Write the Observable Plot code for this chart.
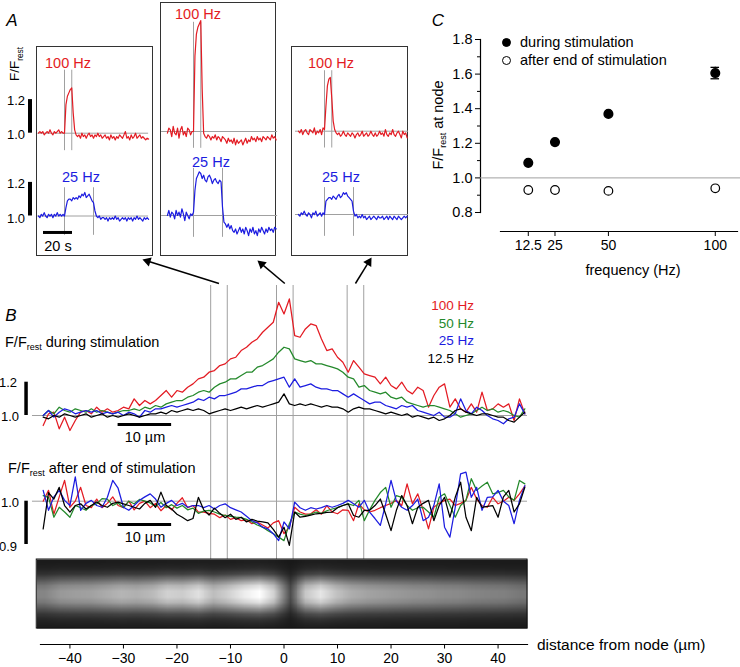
<!DOCTYPE html>
<html><head><meta charset="utf-8">
<script src="https://cdn.jsdelivr.net/npm/d3@7"></script>
<script src="https://cdn.jsdelivr.net/npm/@observablehq/plot@0.6"></script>
<style>
body{margin:0;background:#fff;}
#fig{position:relative;width:740px;height:667px;overflow:hidden;font-family:"Liberation Sans",Arial,Helvetica,sans-serif;color:#000;background:#fff;}
#fig > svg{position:absolute;left:0;top:0;}
.t{position:absolute;white-space:nowrap;line-height:1;}
.t sub{font-size:0.62em;vertical-align:-0.4em;line-height:0;}
.box{position:absolute;box-sizing:border-box;border:1.5px solid #333;}
.ldot{position:absolute;box-sizing:border-box;border:1.2px solid #000;border-radius:50%;width:9px;height:9px;}
</style></head><body><div id="fig"></div>
<script>
// ================= DATA =================
// Panel B: profiles along the axon (µm from node)
const distanceUm = [-45,-44,-43,-42,-41,-40,-39,-38,-37,-36,-35,-34,-33,-32,-31,-30,-29,-28,-27,-26,-25,-24,-23,-22,-21,-20,-19,-18,-17,-16,-15,-14,-13,-12,-11,-10,-9,-8,-7,-6,-5,-4,-3,-2,-1,0,1,2,3,4,5,6,7,8,9,10,11,12,13,14,15,16,17,18,19,20,21,22,23,24,25,26,27,28,29,30,31,32,33,34,35,36,37,38,39,40,41,42,43,44,45];
const duringRed = [0.94,1.01,1.02,0.92,0.99,0.91,0.97,1.02,1.03,1.01,1.05,1.02,1.04,1.02,1.03,1.05,1.04,1.10,1.06,1.09,1.07,1.09,1.12,1.15,1.11,1.15,1.14,1.17,1.19,1.22,1.23,1.26,1.27,1.30,1.31,1.34,1.35,1.39,1.41,1.44,1.46,1.50,1.53,1.56,1.68,
  1.61,1.70,1.48,1.47,1.52,1.55,1.54,1.46,1.39,1.40,1.35,1.32,1.26,1.33,1.29,1.25,1.24,1.23,1.19,1.23,1.18,1.16,1.20,1.15,1.13,1.17,1.15,1.05,1.12,1.17,1.19,1.05,1.10,1.04,1.02,1.07,1.02,1.14,1.03,1.04,1.07,1.05,1.07,0.97,1.10,1.01];
const duringGreen = [1.00,1.03,1.01,1.05,1.03,1.02,1.04,1.03,1.02,1.04,1.02,1.03,1.02,1.01,1.02,1.03,1.03,1.04,1.03,1.05,1.04,1.06,1.05,1.07,1.08,1.09,1.09,1.11,1.12,1.14,1.15,1.14,1.17,1.19,1.20,1.22,1.22,1.24,1.26,1.26,1.29,1.30,1.32,1.34,1.38,
  1.41,1.40,1.34,1.33,1.32,1.33,1.31,1.31,1.30,1.29,1.28,1.26,1.23,1.22,1.17,1.18,1.15,1.14,1.13,1.14,1.11,1.10,1.11,1.08,1.07,1.06,1.05,1.06,1.06,1.05,1.04,1.03,1.01,0.99,1.00,1.01,1.03,1.05,1.03,1.04,1.02,1.03,1.02,1.00,0.99,1.04];
const duringBlue = [1.00,1.03,0.99,1.02,1.04,1.03,1.01,1.02,1.03,1.02,1.03,1.01,1.02,1.01,1.02,1.00,1.02,1.01,0.99,1.03,1.02,1.04,1.04,1.05,1.06,1.05,1.06,1.07,1.08,1.10,1.09,1.11,1.10,1.12,1.12,1.13,1.14,1.16,1.16,1.17,1.18,1.18,1.20,1.21,1.22,
  1.23,1.17,1.22,1.17,1.18,1.19,1.17,1.16,1.16,1.15,1.15,1.13,1.11,1.13,1.11,1.09,1.07,1.08,1.08,1.06,1.05,1.04,1.06,1.05,1.06,1.03,1.02,1.01,1.00,1.02,0.99,0.99,1.01,1.10,1.03,1.01,1.05,1.03,1.00,0.98,0.97,0.95,0.98,0.99,1.07,1.01];
const duringBlack = [0.99,0.98,1.00,0.99,1.01,1.00,0.99,1.00,1.01,0.99,1.00,1.01,0.99,1.00,0.99,1.00,1.01,1.00,0.99,1.00,1.01,1.01,1.02,1.01,1.03,1.02,1.03,1.04,1.03,1.04,1.03,1.01,1.02,1.03,1.04,1.03,1.04,1.05,1.04,1.05,1.06,1.05,1.06,1.07,1.08,
  1.13,1.07,1.06,1.07,1.06,1.07,1.06,1.05,1.06,1.05,1.05,1.04,1.02,1.04,1.05,1.04,1.04,1.03,1.02,1.01,1.02,1.01,1.00,1.01,0.99,1.00,0.99,0.98,0.99,0.97,0.98,1.00,1.03,1.04,1.02,1.01,1.00,1.01,1.01,1.00,0.99,0.99,0.97,0.96,0.99,1.02];
const afterRed = [1.00,1.025,0.97,1.01,1.048,0.986,1.00,1.032,0.99,0.985,
  1.005,0.985,0.995,1.01,0.99,0.985,1.00,0.98,0.995,1.00,
  0.985,0.995,0.978,0.99,0.98,0.995,1.008,0.985,0.99,0.975,
  0.975,0.972,0.97,0.962,0.968,0.958,0.962,0.955,0.957,0.948,
  0.952,0.945,0.938,0.95,0.955,
  0.925,0.94,0.986,0.975,0.97,0.971,0.98,0.97,0.99,0.975,
  0.971,0.98,0.979,0.955,0.994,0.98,0.975,0.979,0.985,0.99,
  0.995,1.002,0.99,1.04,0.994,1.017,0.98,0.936,0.986,0.995,
  1.002,1.005,0.99,0.995,1.002,1.032,1.005,0.99,0.986,1.009,
  0.994,1.00,1.009,1.002,1.017,1.035];
const afterGreen = [1.013,1.009,0.963,0.986,0.975,0.963,0.99,0.985,0.979,0.99,
  0.994,1.006,1.005,0.99,0.996,0.985,1.0,0.994,1.004,1.0,
  0.996,0.988,0.997,0.985,0.992,0.984,0.99,0.98,0.984,0.972,
  0.977,0.979,0.975,0.97,0.967,0.965,0.963,0.962,0.958,0.952,
  0.945,0.94,0.932,0.925,0.917,
  0.909,0.948,0.975,0.97,0.967,0.97,0.975,0.972,0.978,0.982,
  0.985,0.99,0.994,0.99,1.002,0.955,0.98,1.002,1.02,1.032,
  0.986,1.013,1.009,0.99,0.979,0.985,0.986,0.975,0.963,1.009,
  1.017,0.99,0.963,0.99,1.002,1.052,1.025,1.035,1.044,1.017,
  1.02,1.025,1.01,1.002,1.048,1.04];
const afterBlue = [1.025,0.979,1.01,1.025,1.002,0.99,1.056,0.979,0.995,1.002,
  0.99,0.986,1.009,1.048,1.03,0.986,0.979,0.99,1.002,1.01,
  1.017,1.005,0.986,0.995,1.002,0.99,0.995,0.986,0.99,0.99,
  0.985,0.99,0.982,0.99,0.994,0.985,0.98,0.975,0.965,0.955,
  0.95,0.94,0.936,0.925,0.909,
  0.952,0.936,0.998,0.985,0.979,0.985,0.982,0.985,0.99,0.986,
  0.99,0.995,1.002,0.994,0.986,1.002,0.975,0.96,0.944,0.994,
  1.048,1.00,0.986,0.979,0.99,1.005,0.955,0.963,0.99,1.04,
  0.94,0.917,0.986,1.063,1.067,1.009,1.032,0.979,1.009,1.01,
  1.025,1.00,0.99,0.948,1.002,1.036];
const afterBlack = [0.936,1.02,1.005,1.032,0.99,0.975,0.99,0.994,0.982,0.99,
  0.998,0.99,0.986,0.995,0.998,0.994,0.99,0.986,0.982,0.995,
  1.002,0.986,1.021,0.99,0.982,0.97,0.963,0.955,0.96,1.009,
  0.98,0.968,0.984,0.972,0.962,0.97,0.958,0.963,0.952,0.958,
  0.954,0.952,0.95,0.935,0.917,
  0.94,0.898,0.975,0.963,0.965,0.968,0.971,0.972,0.974,0.975,
  0.985,0.99,0.994,0.967,0.963,0.979,0.979,0.99,1.005,0.97,
  0.932,0.979,1.013,0.99,0.948,0.986,0.995,1.002,0.955,0.99,
  1.009,0.963,1.009,1.044,0.963,0.932,1.009,0.986,0.988,0.99,
  0.963,1.01,1.025,0.975,0.994,1.032];
const seriesLabels = ["100 Hz","50 Hz","25 Hz","12.5 Hz"];
const nodeMarkers = [-13.7,-10.6,-1.4,1.7,11.8,14.9];
const distanceTicks = [-40,-30,-20,-10,0,10,20,30,40];

// Fluorescence image (grey level, 0 = black, 1 = white)
const imageColumnLevel = [0.52,0.60,0.62,0.63,0.67,0.71,0.69,0.73,0.82,0.80,0.88,0.74,0.82,0.93,1.00,0.80,0.30,0.78,0.90,0.76,0.68,0.64,0.62,0.60,0.58,0.57,0.55,0.54,0.52,0.51,0.50,0.47];
const imageRowLevel = [0.04,0.09,0.24,0.55,0.86,1.00,1.00,0.86,0.56,0.28,0.12,0.05];
const imageBackground = 0.09;

// Panel A insets: F/Frest vs time (1 s samples)
const inset1Red = [1.00,1.01,1.00,1.01,0.99,1.00,1.01,1.00,1.02,1.00,0.99,1.01,1.00,1.01,1.02,1.00,1.01,1.00,
  1.00,1.17,1.22,1.24,1.26,1.27,1.12,1.02,0.99,0.98,
  0.99,0.97,1.00,0.98,0.99,0.97,0.99,1.00,0.98,0.99,0.97,0.99,0.98,1.00,0.98,0.99,0.97,0.98,0.99,0.97,0.98,0.96,0.99,0.97,0.98,0.96,0.98,0.97,0.99,0.98,0.97,0.99,1.01,0.97,0.98,0.96,0.99,0.97,0.98,1.00,0.97,0.98,0.99,0.97,0.98,0.97,0.96,0.97,0.965];
const inset1Blue = [1.00,0.99,1.01,1.00,1.02,1.00,0.99,1.01,1.00,1.01,0.99,1.01,1.00,1.02,1.00,1.01,1.00,1.01,
  1.00,1.05,1.09,1.10,1.10,1.09,1.11,1.10,1.11,1.10,1.12,1.11,1.13,1.12,1.14,1.11,1.12,1.13,1.11,1.09,1.08,1.03,1.00,
  0.99,1.00,0.98,0.99,0.99,0.98,0.99,0.97,0.99,0.98,0.99,0.98,1.00,0.98,0.99,0.97,0.98,0.99,0.98,0.99,0.97,0.99,0.98,0.99,0.97,0.99,0.98,1.00,0.98,0.99,0.98,0.97,0.99,0.98,0.99,0.98];
const inset2Red = [0.99,1.02,1.01,0.97,1.03,0.99,0.98,1.02,0.96,1.01,1.03,0.98,1.00,0.97,1.02,1.01,0.98,1.00,
  1.00,1.45,1.58,1.62,1.64,1.66,1.25,0.99,0.97,
  0.96,0.98,0.97,0.95,0.97,0.96,0.98,0.95,0.97,0.96,0.94,0.97,0.96,0.95,0.93,0.96,0.94,0.95,0.93,0.96,0.92,0.95,0.93,0.94,0.95,0.92,0.94,0.96,0.93,0.95,0.94,0.97,0.95,0.96,0.94,0.97,0.95,0.96,0.94,0.97,0.96,0.95,0.97,0.96,0.95,0.98,0.96,0.97,0.95];
const inset2Blue = [1.00,1.03,0.99,1.02,1.01,0.98,1.03,1.00,1.02,0.99,1.04,1.01,0.97,1.02,1.00,0.98,1.01,1.00,
  1.02,1.15,1.22,1.24,1.26,1.25,1.22,1.24,1.21,1.20,1.23,1.24,1.22,1.19,1.21,1.22,1.20,1.19,1.21,1.20,1.05,0.96,0.95,
  0.93,0.95,0.92,0.94,0.91,0.90,0.92,0.89,0.91,0.93,0.90,0.92,0.89,0.93,0.91,0.88,0.92,0.90,0.93,0.89,0.91,0.88,0.92,0.90,0.93,0.91,0.89,0.92,0.90,0.93,0.91,0.92,0.90,0.93,0.92];
const inset3Red = [1.00,0.99,1.01,0.98,1.00,1.01,0.99,0.98,1.01,1.00,0.99,1.02,0.98,1.00,0.99,1.01,0.98,1.02,
  1.01,1.15,1.27,1.31,1.32,1.20,1.06,1.01,0.99,
  0.98,0.99,0.97,0.98,1.00,0.98,0.97,0.99,0.98,0.97,0.99,0.98,0.96,0.98,0.99,0.97,0.98,1.00,0.97,0.98,0.99,0.97,0.98,1.00,0.98,0.97,0.99,0.97,0.98,1.00,0.98,0.99,0.97,1.01,0.98,0.97,0.99,0.98,1.01,0.98,0.97,0.99,1.00,0.98,0.96,1.00,0.98,0.99,0.96];
const inset3Blue = [1.00,0.99,1.01,1.00,1.02,1.00,0.99,1.01,1.00,0.98,1.01,1.00,1.02,0.99,1.00,1.01,0.99,1.01,
  1.00,1.08,1.09,1.10,1.10,1.09,1.11,1.10,1.09,1.11,1.12,1.10,1.11,1.13,1.12,1.13,1.11,1.10,1.09,1.08,1.02,0.99,
  1.00,0.98,0.99,0.98,1.00,0.98,0.99,0.97,0.98,0.99,0.97,0.98,0.99,0.98,0.97,0.99,0.98,0.98,0.99,0.97,0.98,0.99,0.97,0.99,0.98,0.97,0.99,0.98,0.97,0.99,0.98,0.97,0.98,0.99,0.98,0.99];
const stim100Hz = [18, 23];   // s, start/end of 100 Hz train
const stim25Hz = [18, 38];    // s, start/end of 25 Hz train

// Panel C
const stimFrequency = [12.5, 25, 50, 100];
const nodeDuring = [1.087, 1.207, 1.37, 1.606];
const nodeDuringSem = [0, 0, 0, 0.033];
const nodeAfter = [0.93, 0.93, 0.925, 0.94];
const frequencyTicks = [12.5, 25, 50, 100];
const ratioTicks = [0.8, 1.0, 1.2, 1.4, 1.6, 1.8];
const ratioMinorTicks = [0.9, 1.1, 1.3, 1.5, 1.7];

// ================= STYLE / LAYOUT =================
const FONT = '"Liberation Sans", Arial, Helvetica, sans-serif';
const RED = "#e31b23", GREEN = "#24892b", BLUE = "#1c1ce0", BLACK = "#000";
const GRID = "#a0a0a0";
const fig = document.getElementById("fig");
const page = {width: 740, height: 667, margin: 0,
  style: {background: "none", overflow: "visible", fontFamily: FONT, fontSize: "13px", color: "#000"}};
function add(svg){ fig.appendChild(svg); }
function txt(html, x, y, o = {}) {
  const el = document.createElement("div");
  el.className = "t"; el.innerHTML = html;
  const ax = o.anchor === "start" ? "0" : o.anchor === "end" ? "-100%" : "-50%";
  el.style.left = x + "px"; el.style.top = y + "px";
  el.style.fontSize = (o.size || 13) + "px";
  if (o.color) el.style.color = o.color;
  if (o.italic) el.style.fontStyle = "italic";
  el.style.transform = `translate(${ax},-50%)` + (o.rotate ? ` rotate(${o.rotate}deg)` : "");
  fig.appendChild(el);
}
const FF = "F/F<sub>rest</sub>";

// x scale for panel B (µm)
const xB = {domain: [-45.5, 45.5], range: [40, 527]};
const xScaleB = Plot.scale({x: xB});
const bSeries = [
  {label: seriesLabels[0], color: RED, during: duringRed, after: afterRed},
  {label: seriesLabels[1], color: GREEN, during: duringGreen, after: afterGreen},
  {label: seriesLabels[2], color: BLUE, during: duringBlue, after: afterBlue},
  {label: seriesLabels[3], color: BLACK, during: duringBlack, after: afterBlack}
];
const rowsOf = arr => distanceUm.map((x, i) => ({x, v: arr[i]}));

// --- node marker lines (behind everything) ---
add(Plot.plot({...page, x: {...xB, axis: null}, y: {type: "identity", axis: null},
  marks: [Plot.ruleX(nodeMarkers, {y1: 285, y2: 559, stroke: GRID, strokeWidth: 1})]}));

// --- arrows from B to insets (shaft + filled head) ---
const HEAD = 5.4; // distance from triangle centre to its tip
const arrows = [
  {pair: [0, 1], tx: 142, ty: 259},
  {pair: [2, 3], tx: 257, ty: 260},
  {pair: [4, 5], tx: 371, ty: 257}
].map(a => {
  const sx = xScaleB.apply((nodeMarkers[a.pair[0]] + nodeMarkers[a.pair[1]]) / 2), sy = 283;
  const dx = a.tx - sx, dy = a.ty - sy, len = Math.hypot(dx, dy);
  const ux = dx / len, uy = dy / len;
  return {...a, sx, sy, hx: a.tx - ux * HEAD, hy: a.ty - uy * HEAD,
    bx: a.tx - ux * HEAD * 1.4, by: a.ty - uy * HEAD * 1.4,
    angle: Math.atan2(dx, -dy) * 180 / Math.PI};
});
add(Plot.plot({...page, x: {type: "identity", axis: null}, y: {type: "identity", axis: null},
  marks: [
    Plot.link(arrows, {x1: "sx", y1: "sy", x2: "bx", y2: "by", stroke: "#000", strokeWidth: 1.5}),
    Plot.dot(arrows, {x: "hx", y: "hy", symbol: "triangle", r: 3.5, rotate: "angle", fill: "#000", stroke: "none"})
  ]}));

// --- B: during stimulation ---
add(Plot.plot({...page, x: {...xB, axis: null}, y: {domain: [1, 1.2], range: [415, 381.7], axis: null},
  marks: [
    Plot.ruleY([1], {x1: -47, x2: 45.5, stroke: GRID, strokeWidth: 1}),
    ...bSeries.map(s => Plot.line(rowsOf(s.during), {x: "x", y: "v", stroke: s.color, strokeWidth: 1.25})),
    Plot.ruleX([-48.2], {y1: 1, y2: 1.2, stroke: "#000", strokeWidth: 3.5}),
    Plot.ruleY([0.946], {x1: -31, x2: -21, stroke: "#000", strokeWidth: 3})
  ]}));

// --- B: after end of stimulation ---
add(Plot.plot({...page, x: {...xB, axis: null}, y: {domain: [0.9, 1.0], range: [544, 500.7], axis: null},
  marks: [
    Plot.ruleY([1], {x1: -47, x2: 45.5, stroke: GRID, strokeWidth: 1}),
    ...bSeries.map(s => Plot.line(rowsOf(s.after), {x: "x", y: "v", stroke: s.color, strokeWidth: 1.25})),
    Plot.ruleX([-48.2], {y1: 0.9, y2: 1.0, stroke: "#000", strokeWidth: 3.5}),
    Plot.ruleY([0.946], {x1: -31, x2: -21, stroke: "#000", strokeWidth: 3})
  ]}));

// --- fluorescence image ---
const imageValues = [];
for (const r of imageRowLevel) for (const c of imageColumnLevel)
  imageValues.push(imageBackground + (c - imageBackground) * r);
add(Plot.plot({...page, x: {...xB, axis: null}, y: {domain: [0, 1], range: [559, 628], axis: null},
  color: {type: "linear", domain: [0, 1], range: ["#000", "#fff"]},
  marks: [
    Plot.raster(imageValues, {width: imageColumnLevel.length, height: imageRowLevel.length,
      x1: -46.2, x2: 45.5, y1: 0, y2: 1, fill: d => d, imageRendering: "auto"}),
    Plot.rect([0], {x1: -46.2, x2: 45.5, y1: 0, y2: 1, fill: "none", stroke: "#111", strokeWidth: 1})
  ]}));

// --- bottom distance axis ---
add(Plot.plot({...page, marginLeft: 40, marginRight: 213, marginBottom: 23,
  x: {domain: xB.domain},
  marks: [
    Plot.frame({anchor: "bottom", stroke: "#000", strokeWidth: 1.2}),
    Plot.axisX(distanceTicks, {anchor: "bottom", tickSize: 4.5, tickPadding: 4, fontSize: 14, label: null,
      tickFormat: d => d < 0 ? "\u2212" + (-d) : String(d)})
  ]}));

// --- panel A insets ---
const PX_PER_S = 1.45, PX_PER_UNIT = 168, SPAN = 76;
const insets = [
  {left: 36, top: 46, right: 153, bottom: 256, t0: 37.9, gx1: -0.3,
   red: {base: 132.7, lines: [0.896, 1.375], data: inset1Red, label: [68, 63]},
   blue: {base: 215.5, lines: [0.885, 1.168], data: inset1Blue, label: [81, 177]}},
  {left: 160, top: 2, right: 276, bottom: 256, t0: 166.9, gx1: -4,
   red: {base: 131, lines: [0.90, 1.65], data: inset2Red, label: [198, 14]},
   blue: {base: 215, lines: [0.87, 1.28], data: inset2Blue, label: [211, 162]}},
  {left: 291, top: 46, right: 408, bottom: 256, t0: 297.9, gx1: -2,
   red: {base: 130.7, lines: [0.90, 1.36], data: inset3Red, label: [331, 63]},
   blue: {base: 214, lines: [0.87, 1.16], data: inset3Blue, label: [341, 177]}}
];
insets.forEach((b, k) => {
  const box = document.createElement("div");
  box.className = "box";
  Object.assign(box.style, {left: b.left + "px", top: b.top + "px", width: (b.right - b.left) + "px", height: (b.bottom - b.top) + "px"});
  fig.appendChild(box);
  [["red", RED, stim100Hz], ["blue", BLUE, stim25Hz]].forEach(([key, color, stim]) => {
    const tr = b[key];
    const rows = tr.data.map((v, i) => ({t: i, v}));
    const extras = [];
    if (k === 0) {
      extras.push(Plot.ruleX([-5.8], {y1: 1, y2: 1.2, stroke: "#000", strokeWidth: 4}));
      if (key === "blue") extras.push(Plot.ruleY([0.902], {x1: 3.5, x2: 23.5, stroke: "#000", strokeWidth: 3}));
    }
    add(Plot.plot({...page,
      x: {domain: [0, SPAN], range: [b.t0, b.t0 + SPAN * PX_PER_S], axis: null},
      y: {domain: [1, 1.2], range: [tr.base, tr.base - 0.2 * PX_PER_UNIT], axis: null},
      marks: [
        Plot.ruleY([1], {x1: b.gx1, x2: SPAN, stroke: GRID, strokeWidth: 1}),
        Plot.ruleX(stim, {y1: tr.lines[0], y2: tr.lines[1], stroke: GRID, strokeWidth: 1}),
        Plot.line(rows, {x: "t", y: "v", stroke: color, strokeWidth: 1.2}),
        ...extras
      ]}));
    txt(key === "red" ? seriesLabels[0] : seriesLabels[2], tr.label[0], tr.label[1], {size: 14.5, color});
  });
});

// --- panel C ---
add(Plot.plot({...page, marginLeft: 480, marginTop: 39, marginBottom: 455, marginRight: 0,
  y: {domain: [0.8, 1.8]},
  marks: [
    Plot.frame({anchor: "left", stroke: "#000", strokeWidth: 1.2}),
    Plot.ruleY([1], {stroke: GRID, strokeWidth: 1}),
    Plot.axisY(ratioTicks, {anchor: "left", tickSize: 5, tickPadding: 3, fontSize: 14.5, label: null, tickFormat: d => d.toFixed(1)}),
    Plot.axisY(ratioMinorTicks, {anchor: "left", tickSize: 3, label: null, tickFormat: () => ""})
  ]}));
const cRows = stimFrequency.map((f, i) => ({f, during: nodeDuring[i], sem: nodeDuringSem[i], after: nodeAfter[i]}));
const semRows = cRows.filter(d => d.sem > 0);
add(Plot.plot({...page, marginLeft: 500, marginRight: 3, marginTop: 39, marginBottom: 436,
  x: {domain: [-0.5, 110.4]},
  y: {domain: [0.8, 1.8], range: [212, 39], axis: null},
  marks: [
    Plot.frame({anchor: "bottom", stroke: "#000", strokeWidth: 1.2}),
    Plot.axisX(frequencyTicks, {anchor: "bottom", tickSize: 5, tickPadding: 4, fontSize: 14, label: null, tickFormat: d => String(d)}),
    Plot.ruleX(semRows, {x: "f", y1: d => d.during - d.sem, y2: d => d.during + d.sem, stroke: "#000", strokeWidth: 1.3}),
    Plot.ruleY(semRows, {y: d => d.during - d.sem, x1: d => d.f - 2, x2: d => d.f + 2, stroke: "#000", strokeWidth: 1.3}),
    Plot.ruleY(semRows, {y: d => d.during + d.sem, x1: d => d.f - 2, x2: d => d.f + 2, stroke: "#000", strokeWidth: 1.3}),
    Plot.dot(cRows, {x: "f", y: "during", r: 4.3, fill: "#000", stroke: "#000"}),
    Plot.dot(cRows, {x: "f", y: "after", r: 4.3, fill: "#fff", stroke: "#000", strokeWidth: 1.2})
  ]}));

// ================= TEXT =================
txt("A", 12, 20, {size: 17, italic: true});
txt("B", 11, 315, {size: 17, italic: true});
txt("C", 438, 20, {size: 17, italic: true});
// inset axis
txt(FF, 15, 64, {size: 13.5, rotate: -90});
txt("1.2", 25, 100, {anchor: "end"});
txt("1.0", 25, 134, {anchor: "end"});
txt("1.2", 25, 183, {anchor: "end"});
txt("1.0", 25, 218, {anchor: "end"});
txt("20 s", 58, 246, {size: 14.5});
// B labels
txt(FF + " during stimulation", 5, 342, {anchor: "start", size: 14.5});
txt(FF + " after end of stimulation", 8, 468, {anchor: "start", size: 14.5});
txt("1.2", 17, 382, {anchor: "end"});
txt("1.0", 19, 416, {anchor: "end"});
txt("1.0", 19, 502, {anchor: "end"});
txt("0.9", 17, 546, {anchor: "end"});
txt("10 µm", 145, 437, {size: 14.5});
txt("10 µm", 145, 537, {size: 14.5});
bSeries.forEach((s, i) => txt(s.label, 474, 306 + i * 17.7, {anchor: "end", size: 13.5, color: s.color}));
txt("distance from node (µm)", 537, 645, {anchor: "start", size: 15.5});
// C labels
txt(FF + " at node", 438, 125, {size: 14.5, rotate: -90});
txt("frequency (Hz)", 633, 270, {size: 14.5});
[[42, true, "during stimulation"], [60, false, "after end of stimulation"]].forEach(([y, filled, label]) => {
  const d = document.createElement("div");
  d.className = "ldot";
  Object.assign(d.style, {left: (506 - 4.5) + "px", top: (y - 4.5) + "px", background: filled ? "#000" : "#fff"});
  fig.appendChild(d);
  txt(label, 520, y, {anchor: "start", size: 14.5});
});
</script></body></html>
